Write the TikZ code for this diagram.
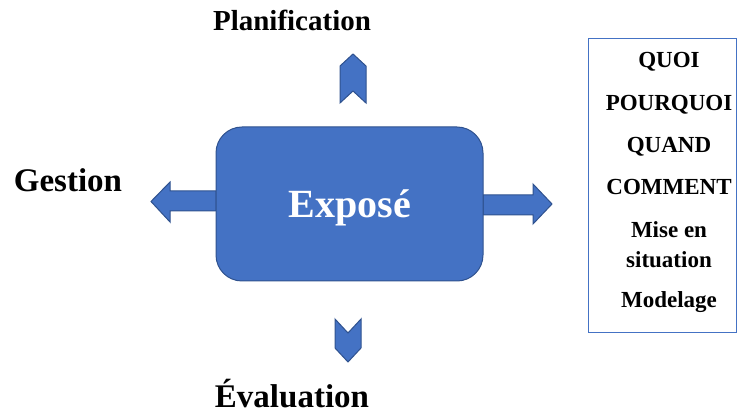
\documentclass[tikz,border=0pt]{standalone}
\usepackage{fontspec}
\setmainfont{Liberation Serif}
\definecolor{offblue}{HTML}{4472C4}
\definecolor{darkblue}{HTML}{2F528F}
\begin{document}
\begin{tikzpicture}[x=1pt,y=-1pt,
  shapefill/.style={fill=offblue,draw=darkblue,line width=1pt,line join=miter},
  lbl/.style={font=\bfseries,anchor=base,inner sep=0pt},
  item/.style={font=\fontsize{23}{25}\selectfont\bfseries,anchor=base,inner sep=0pt}]
\useasboundingbox (0,0) rectangle (737,414);
% arrows
\draw[shapefill] (216,191) -- (170,191) -- (170,182) -- (151,201.5) -- (170,222) -- (170,211) -- (216,211) -- cycle;
\draw[shapefill] (483,195) -- (533,195) -- (533,184) -- (552,204) -- (533,224) -- (533,215) -- (483,215) -- cycle;
\draw[shapefill] (353,54) -- (366,66) -- (366,103) -- (353,91) -- (340,103) -- (340,66) -- cycle;
\draw[shapefill] (335,319) -- (348,333) -- (361,319) -- (361,348) -- (348,362) -- (335,348) -- cycle;
% main box
\node[shapefill,rounded corners=26pt,minimum width=267pt,minimum height=154pt,inner sep=0pt] (expo) at (349.5,204) {};
\node[lbl,text=white,font=\fontsize{40}{44}\selectfont\bfseries] (expot) at (350,218) {Exposé};
% labels
\node[lbl,font=\fontsize{29}{31}\selectfont\bfseries] (plan) at (292,31) {Planification};
\node[lbl,font=\fontsize{33}{35}\selectfont\bfseries] (gest) at (68,192) {Gestion};
\node[lbl,font=\fontsize{33}{35}\selectfont\bfseries] (eval) at (292,407) {Évaluation};
% right box
\draw[draw=offblue,line width=1pt] (588.5,39) rectangle (736.5,333);
\node[item] (q1) at (669,68) {QUOI};
\node[item] (q2) at (669,111) {POURQUOI};
\node[item] (q3) at (669,153) {QUAND};
\node[item] (q4) at (669,195) {COMMENT};
\node[item] (q5) at (669,238) {Mise en};
\node[item] (q6) at (669,268) {situation};
\node[item] (q7) at (669,308) {Modelage};
\end{tikzpicture}
\end{document}
